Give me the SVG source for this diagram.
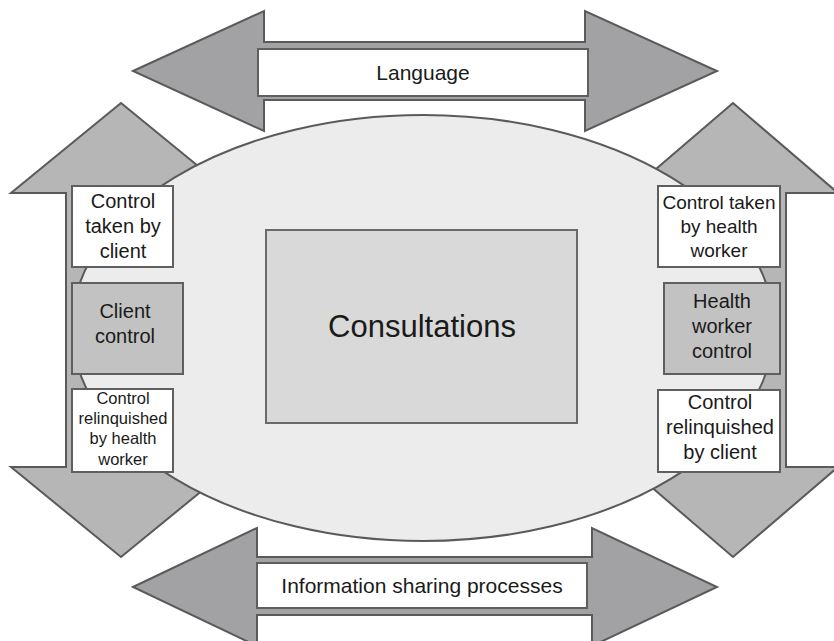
<svg xmlns="http://www.w3.org/2000/svg" width="834" height="641" viewBox="0 0 834 641">
<style>
.bg{fill:#ffffff}
.harrow{fill:#a2a2a4;stroke:#5a5a5a;stroke-width:2;stroke-linejoin:miter}
.varrow{fill:#b6b6b6;stroke:#5a5a5a;stroke-width:2;stroke-linejoin:miter}
.oval{fill:#ececec;stroke:#5a5a5a;stroke-width:2}
.wbox{fill:#ffffff;stroke:#5f5f5f;stroke-width:2}
.gbox{fill:#c2c2c2;stroke:#5f5f5f;stroke-width:2}
.cbox{fill:#d9d9d9;stroke:#6a6a6a;stroke-width:2}
text{font-family:"Liberation Sans",Arial,sans-serif;fill:#1a1a1a;text-anchor:middle}
.t21{font-size:21px}
.t20{font-size:20px}
.t19{font-size:19px}
.t17{font-size:16.5px}
.t31{font-size:31px}
</style>
<rect class="bg" x="0" y="0" width="834" height="641"/>
<g id="connectors">
  <polygon id="left-arrow" class="varrow" points="121,103 11,193 66,193 66,467 11,467 121,557 231,467 176,467 176,193 231,193"/>
  <polygon id="right-arrow" class="varrow" points="733,103 628,193 680,193 680,467 628,467 733,557 838,467 786,467 786,193 838,193"/>
  <polygon id="top-arrow" class="harrow" points="133,71 264,11 264,42 585,42 585,11 717,71 585,131 585,100 264,100 264,131"/>
  <polygon id="bottom-arrow" class="harrow" points="133,587 257,528 257,557 592,557 592,528 717,587 592,646 592,615 257,615 257,646"/>
</g>
<g id="oval">
  <ellipse class="oval" cx="423" cy="328" rx="351" ry="213"/>
</g>
<g id="language">
  <rect class="wbox" x="258" y="49" width="330" height="47"/>
  <text class="t21" x="423" y="80">Language</text>
</g>
<g id="information">
  <rect class="wbox" x="257" y="563" width="330" height="45"/>
  <text class="t21" x="422" y="593">Information sharing processes</text>
</g>
<g id="consultations">
  <rect class="cbox" x="266" y="230" width="311" height="193"/>
  <text class="t31" x="422" y="337">Consultations</text>
</g>
<g id="control-taken-by-client">
  <rect class="wbox" x="72" y="186" width="101" height="81"/>
  <text class="t20" x="123" y="208">Control</text>
  <text class="t20" x="123" y="233">taken by</text>
  <text class="t20" x="123" y="258">client</text>
</g>
<g id="client-control">
  <rect class="gbox" x="72" y="283" width="111" height="91"/>
  <text class="t20" x="125" y="318">Client</text>
  <text class="t20" x="125" y="343">control</text>
</g>
<g id="control-relinquished-by-health-worker">
  <rect class="wbox" x="72" y="389" width="101" height="83"/>
  <text class="t17" x="123" y="404">Control</text>
  <text class="t17" x="123" y="424">relinquished</text>
  <text class="t17" x="123" y="444">by health</text>
  <text class="t17" x="123" y="465">worker</text>
</g>
<g id="control-taken-by-health-worker">
  <rect class="wbox" x="658" y="186" width="122" height="81"/>
  <text class="t19" x="719" y="209">Control taken</text>
  <text class="t19" x="719" y="233">by health</text>
  <text class="t19" x="719" y="257">worker</text>
</g>
<g id="health-worker-control">
  <rect class="gbox" x="664" y="283" width="116" height="91"/>
  <text class="t20" x="722" y="308">Health</text>
  <text class="t20" x="722" y="333">worker</text>
  <text class="t20" x="722" y="358">control</text>
</g>
<g id="control-relinquished-by-client">
  <rect class="wbox" x="658" y="390" width="122" height="82"/>
  <text class="t20" x="720" y="409">Control</text>
  <text class="t20" x="720" y="434">relinquished</text>
  <text class="t20" x="720" y="459">by client</text>
</g>
</svg>
